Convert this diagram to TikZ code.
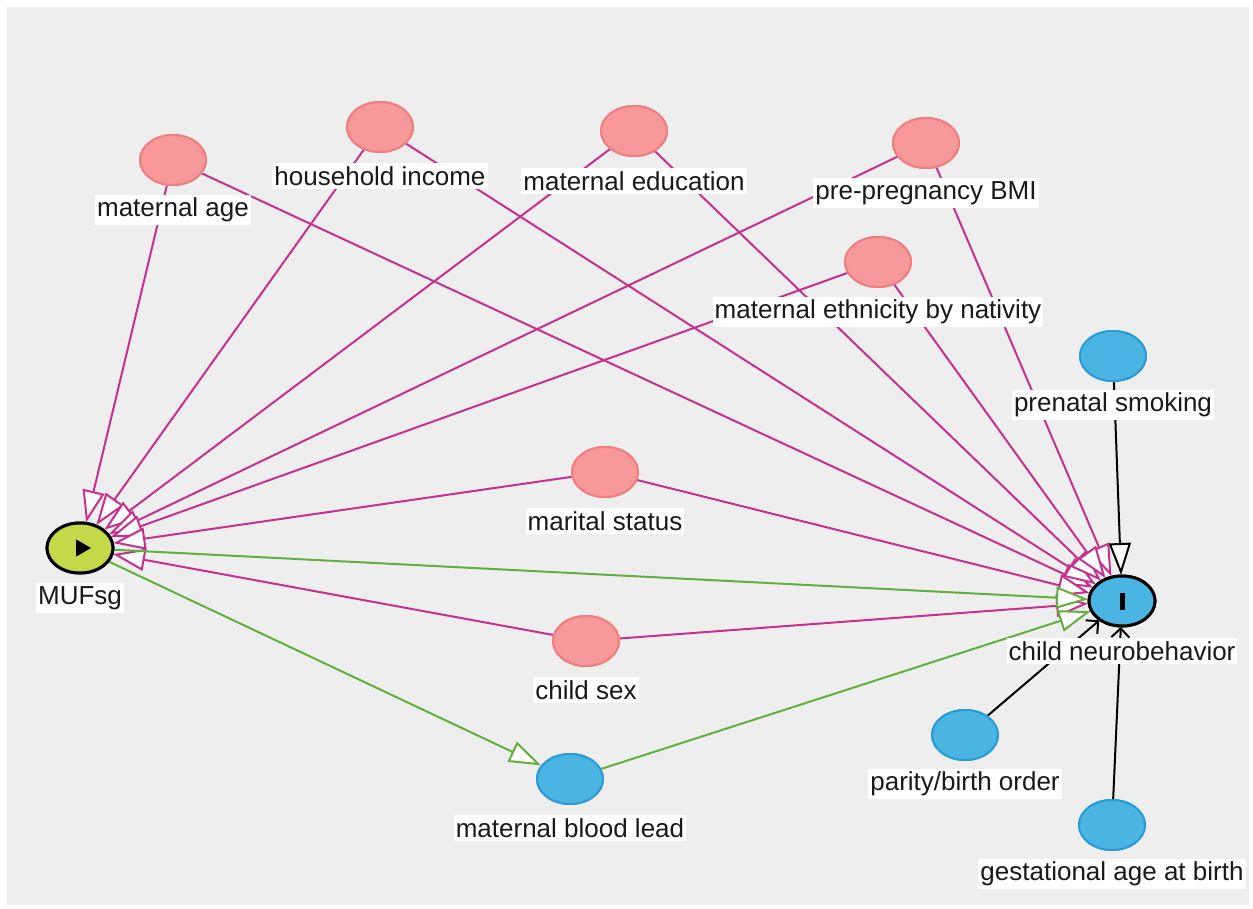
\documentclass[tikz,border=0pt]{standalone}
\usepackage{fontspec}
\setmainfont{Liberation Sans}
\usetikzlibrary{arrows.meta,shapes.geometric}
\definecolor{bg}{HTML}{EEEEEE}
\definecolor{pinkfill}{HTML}{F7989A}
\definecolor{pinkline}{HTML}{EE7E80}
\definecolor{bluefill}{HTML}{4AB4E2}
\definecolor{blueline}{HTML}{2B9BD3}
\definecolor{expfill}{HTML}{C4D84A}
\definecolor{biasc}{HTML}{C8308E}
\definecolor{causc}{HTML}{62AE3E}
\tikzset{
  var/.style={ellipse,minimum width=66pt,minimum height=50pt,inner sep=0pt,line width=2pt,outer sep=1pt},
  conf/.style={var,fill=pinkfill,draw=pinkline},
  other/.style={var,fill=bluefill,draw=blueline},
  expo/.style={var,fill=expfill,draw=black,line width=3pt},
  outc/.style={var,fill=bluefill,draw=black,line width=3pt},
  lab/.style={fill=white,inner xsep=2pt,inner ysep=3pt,font=\fontsize{26}{31}\selectfont,text=black!90},
  opentip/.style={-{Triangle[length=32pt,width=22pt,fill=white]}},
  bias/.style={draw=biasc,line width=2pt,opentip},
  caus/.style={draw=causc,line width=2pt,opentip},
  blk/.style={draw=black,line width=2pt,opentip},
  barb/.style={draw=black,line width=2pt,-{Straight Barb[length=9pt,width=18pt]}},
}
\begin{document}
\begin{tikzpicture}[x=1pt,y=-1pt]
\useasboundingbox (0,0) rectangle (1253,909);
\fill[white] (0,0) rectangle (1253,909);
\fill[bg] (7,7) rectangle (1249,905);
% nodes
\node[conf] (ma) at (173,160) {};
\node[conf] (hi) at (380,127) {};
\node[conf] (me) at (634,131) {};
\node[conf] (bmi) at (926,143) {};
\node[conf] (eth) at (878,262) {};
\node[conf] (mar) at (605,472) {};
\node[conf] (cs) at (586,641) {};
\node[other] (ps) at (1113,356) {};
\node[other] (par) at (965,735) {};
\node[other] (bl) at (570,779) {};
\node[other] (ga) at (1112,825) {};
\node[expo] (x) at (80,548) {};
\node[outc] (y) at (1122,601) {};
% edges
\foreach \s in {ma,hi,me,bmi,eth,mar,cs}{
  \draw[bias] (\s) -- (x);
  \draw[bias] (\s) -- (y);
}
\draw[caus] (x) -- (y);
\draw[caus] (x) -- (bl);
\draw[caus] (bl) -- (y);
\draw[blk] (ps) -- (y);
\draw[barb] (par) -- (y);
\draw[barb] (ga) -- (y);
% redraw nodes on top
\node[conf] at (ma) {};
\node[conf] at (hi) {};
\node[conf] at (me) {};
\node[conf] at (bmi) {};
\node[conf] at (eth) {};
\node[conf] at (mar) {};
\node[conf] at (cs) {};
\node[other] at (ps) {};
\node[other] at (par) {};
\node[other] at (bl) {};
\node[other] at (ga) {};
\node[expo] at (x) {};
\node[outc] at (y) {};
\node[fill=black,draw=none,isosceles triangle,isosceles triangle apex angle=60,minimum height=15pt,inner sep=0pt] (xt) at (81,548) {};
\node[fill=black,draw=none,rectangle,minimum width=5pt,minimum height=17pt,inner sep=0pt] (yb) at (1122,601) {};
% labels
\node[lab] (maL) at (173,210) {maternal age};
\node[lab] (hiL) at (380,176) {household income};
\node[lab] (meL) at (634,181) {maternal education};
\node[lab] (bmiL) at (926,193) {pre-pregnancy BMI};
\node[lab] (ethL) at (878,312) {maternal ethnicity by nativity};
\node[lab] (marL) at (605,521) {marital status};
\node[lab] (csL) at (586,690) {child sex};
\node[lab] (psL) at (1113,405) {prenatal smoking};
\node[lab] (parL) at (965,784) {parity/birth order};
\node[lab] (blL) at (570,828) {maternal blood lead};
\node[lab] (gaL) at (1112,874) {gestational age at birth};
\node[lab] (xL) at (80,598) {MUFsg};
\node[lab] (yL) at (1122,651) {child neurobehavior};
\end{tikzpicture}
\end{document}
